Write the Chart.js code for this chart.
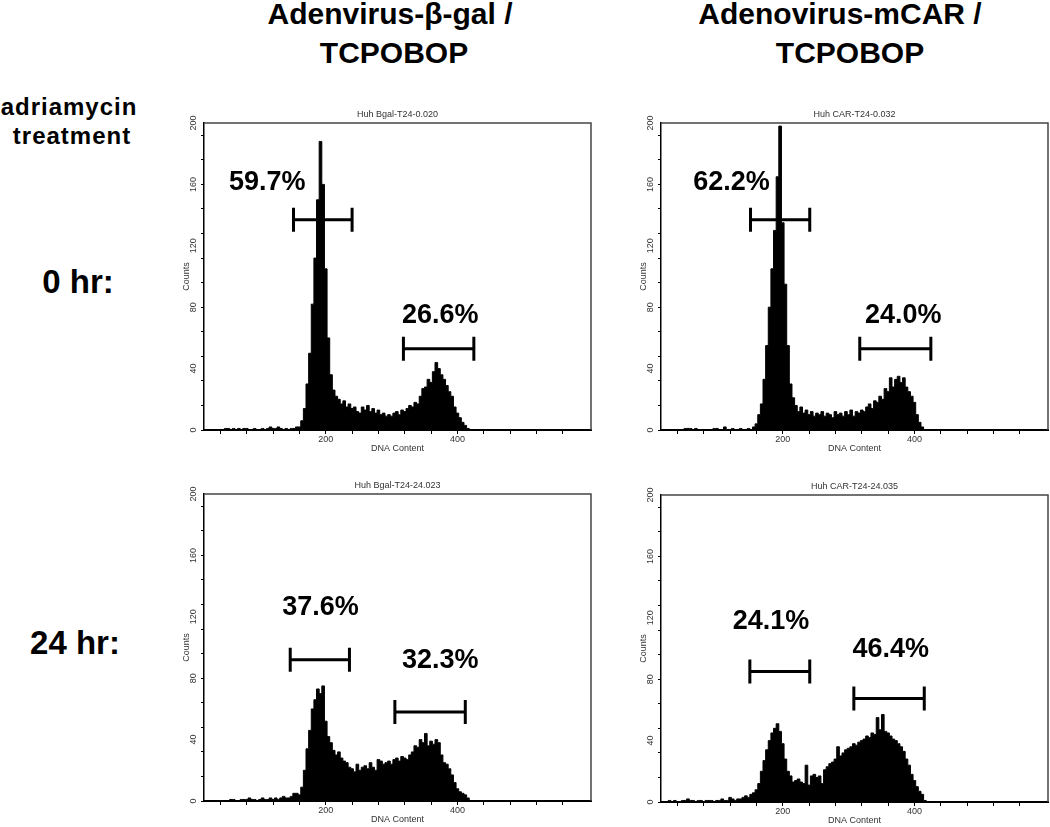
<!DOCTYPE html>
<html>
<head>
<meta charset="utf-8">
<script src="https://cdn.jsdelivr.net/npm/chart.js@4.4.1/dist/chart.umd.min.js"></script>
<style>
  body { margin: 0; background: #fff; }
  #page { position: relative; width: 1050px; height: 827px; overflow: hidden;
          font-family: "Liberation Sans", Arial, sans-serif; font-weight: bold; color: #000; }
  .lbl { position: absolute; white-space: nowrap; text-align: center; }
  canvas { position: absolute; }
</style>
</head>
<body>
<div id="page">
  <div class="lbl" style="left:190px; width:400px; top:-1px; font-size:30px; line-height:30px;">Adenvirus-β-gal /</div>
  <div class="lbl" style="left:194px; width:400px; top:38px; font-size:30px; line-height:30px;">TCPOBOP</div>
  <div class="lbl" style="left:640px; width:400px; top:-1px; font-size:30px; line-height:30px;">Adenovirus-mCAR /</div>
  <div class="lbl" style="left:650px; width:400px; top:38px; font-size:30px; line-height:30px;">TCPOBOP</div>

  <div class="lbl" style="left:-31px; width:200px; top:95px; font-size:24px; line-height:24px; letter-spacing:1px;">adriamycin</div>
  <div class="lbl" style="left:-28px; width:200px; top:124px; font-size:24px; line-height:24px; letter-spacing:1px;">treatment</div>
  <div class="lbl" style="left:-22px; width:200px; top:265px; font-size:33px; line-height:33px;">0 hr:</div>
  <div class="lbl" style="left:-25px; width:200px; top:626px; font-size:33px; line-height:33px;">24 hr:</div>

  <canvas id="p1" width="443" height="355" style="left:150px; top:105px;"></canvas>
  <canvas id="p2" width="443" height="355" style="left:607px; top:105px;"></canvas>
  <canvas id="p3" width="443" height="355" style="left:150px; top:476px;"></canvas>
  <canvas id="p4" width="443" height="355" style="left:607px; top:477px;"></canvas>
</div>

<script>
// DNA content channel (bin centre) for each count
const channels = [
  20, 24, 28, 32, 36, 40, 44, 48, 52, 56, 60, 64, 68, 72, 76, 80, 84, 88, 92, 96,
  100, 104, 108, 112, 116, 120, 124, 128, 132, 136, 140, 144, 148, 152, 156,
  160, 164, 168, 172, 176, 180, 184, 188, 192, 196, 200, 204, 208, 212, 216,
  220, 224, 228, 232, 236, 240, 244, 248, 252, 256, 260, 264, 268, 272, 276,
  280, 284, 288, 292, 296, 300, 304, 308, 312, 316, 320, 324, 328, 332, 336,
  340, 344, 348, 352, 356, 360, 364, 368, 372, 376, 380, 384, 388, 392, 396,
  400, 404, 408, 412, 416, 420
];

// 0 hr, Adenovirus-beta-gal
const countsBgal0 = [
  0, 0, 0, 0, 0, 0, 0, 1, 1, 0, 1, 0, 1, 0, 1, 1, 0, 0, 1, 0,
  0, 1, 0, 1, 2, 1, 1, 2, 1, 0, 1, 0, 1, 1, 2,
  2, 6, 14, 30, 50, 82, 112, 150, 188, 160, 105, 60, 36, 26, 22,
  20, 17, 19, 15, 17, 14, 15, 12, 11, 15, 13, 16, 12, 14, 11,
  13, 10, 11, 9, 10, 9, 11, 12, 10, 13, 12, 14, 16, 15, 18,
  17, 22, 27, 28, 33, 31, 38, 44, 40, 36, 33, 29, 25, 22, 15,
  11, 8, 5, 3, 1, 0
];

// 0 hr, Adenovirus-mCAR
const countsCar0 = [
  0, 0, 0, 0, 0, 0, 0, 0, 1, 1, 1, 0, 1, 0, 0, 0, 0, 0, 0, 1,
  1, 0, 0, 2, 0, 0, 1, 0, 0, 1, 0, 0, 1, 0, 2,
  4, 10, 17, 33, 55, 80, 105, 130, 165, 198, 135, 95, 55, 30, 21,
  16, 12, 15, 11, 13, 10, 12, 9, 11, 10, 12, 9, 11, 10, 8,
  12, 10, 11, 9, 12, 10, 13, 9, 12, 11, 13, 12, 15, 17, 14,
  19, 18, 22, 20, 27, 25, 34, 28, 33, 35, 31, 34, 28, 25, 22,
  18, 10, 5, 2, 0, 0
];

// 24 hr, Adenovirus-beta-gal
const countsBgal24 = [
  0, 0, 0, 0, 0, 0, 0, 0, 0, 1, 1, 0, 0, 1, 1, 1, 2, 1, 1, 0,
  1, 2, 1, 1, 2, 1, 2, 1, 2, 3, 2, 2, 3, 5, 5,
  4, 9, 20, 34, 46, 60, 66, 73, 70, 75, 52, 42, 38, 33, 30,
  32, 28, 26, 25, 22, 21, 19, 24, 20, 22, 23, 21, 25, 22, 20,
  27, 26, 24, 25, 26, 24, 27, 28, 26, 29, 28, 27, 30, 32, 36,
  35, 40, 38, 44, 36, 39, 37, 40, 38, 30, 25, 24, 21, 17, 12,
  8, 6, 5, 4, 2, 0
];

// 24 hr, Adenovirus-mCAR
const countsCar24 = [
  0, 0, 1, 0, 1, 0, 0, 1, 1, 2, 1, 1, 0, 1, 1, 0, 1, 1, 1, 0,
  1, 1, 2, 1, 1, 3, 2, 1, 2, 2, 3, 4, 3, 5, 6,
  8, 12, 20, 27, 34, 40, 45, 48, 51, 46, 38, 28, 20, 17, 13,
  14, 15, 13, 12, 24, 11, 17, 18, 16, 17, 12, 21, 23, 25, 26,
  28, 36, 30, 32, 34, 35, 36, 38, 37, 39, 40, 41, 43, 42, 45,
  44, 55, 47, 57, 46, 45, 43, 41, 40, 38, 36, 33, 28, 24, 18,
  14, 10, 7, 5, 1, 0
];

// gate markers: DNA range and the count level they sit at
const gatesBgal0 = [{ from: 151, to: 240, level: 137 }, { from: 318, to: 425, level: 53 }];
const gatesCar0 = [{ from: 151, to: 241, level: 137 }, { from: 317, to: 425, level: 53 }];
const gatesBgal24 = [{ from: 146, to: 236, level: 92 }, { from: 305, to: 412, level: 58 }];
const gatesCar24 = [{ from: 150, to: 241, level: 85 }, { from: 308, to: 415, level: 67.5 }];

// gate percentages, placed at (channel, count)
const pctBgal0 = [{ text: '59.7%', x: 111, y: 163 }, { text: '26.6%', x: 374, y: 76 }];
const pctCar0 = [{ text: '62.2%', x: 122, y: 163 }, { text: '24.0%', x: 383, y: 76 }];
const pctBgal24 = [{ text: '37.6%', x: 192, y: 128 }, { text: '32.3%', x: 374, y: 93 }];
const pctCar24 = [{ text: '24.1%', x: 182, y: 119 }, { text: '46.4%', x: 364, y: 101 }];

const xTickValues = [40, 80, 120, 160, 200, 240, 280, 320, 360, 400, 440, 480, 520, 560];
const xLabelValues = [200, 400];
const yLabelValues = [0, 40, 80, 120, 160, 200];

const FONT = '"Liberation Sans", Arial, sans-serif';

function drawPanel(canvasId, title, counts, gates, pcts) {
  const decor = {
    id: 'decor',
    afterDraw(chart) {
      const { ctx, chartArea: a } = chart;
      const x = chart.scales.x, y = chart.scales.y;
      ctx.save();

      // box top/right
      ctx.strokeStyle = '#444';
      ctx.lineWidth = 1.5;
      ctx.beginPath();
      ctx.moveTo(a.left, a.top);
      ctx.lineTo(a.right, a.top);
      ctx.lineTo(a.right, a.bottom);
      ctx.stroke();

      // rotated y labels
      ctx.fillStyle = '#333';
      ctx.font = '9px ' + FONT;
      ctx.textAlign = 'center';
      ctx.textBaseline = 'middle';
      yLabelValues.forEach(v => {
        ctx.save();
        ctx.translate(a.left - 10, y.getPixelForValue(v));
        ctx.rotate(-Math.PI / 2);
        ctx.fillText(String(v), 0, 0);
        ctx.restore();
      });
      ctx.save();
      ctx.translate(a.left - 17, (a.top + a.bottom) / 2);
      ctx.rotate(-Math.PI / 2);
      ctx.fillText('Counts', 0, 0);
      ctx.restore();

      ctx.fillText('DNA Content', (a.left + a.right) / 2, a.bottom + 19);
      ctx.fillText(title, (a.left + a.right) / 2, a.top - 8);

      // gate brackets
      ctx.strokeStyle = '#000';
      ctx.lineWidth = 3;
      gates.forEach(g => {
        const x1 = x.getPixelForValue(g.from);
        const x2 = x.getPixelForValue(g.to);
        const yy = y.getPixelForValue(g.level);
        ctx.beginPath();
        ctx.moveTo(x1, yy); ctx.lineTo(x2, yy);
        ctx.moveTo(x1, yy - 12); ctx.lineTo(x1, yy + 12);
        ctx.moveTo(x2, yy - 12); ctx.lineTo(x2, yy + 12);
        ctx.stroke();
      });

      // percentages
      ctx.fillStyle = '#000';
      ctx.font = 'bold 27px ' + FONT;
      ctx.textBaseline = 'alphabetic';
      pcts.forEach(p => {
        ctx.fillText(p.text, x.getPixelForValue(p.x), y.getPixelForValue(p.y) + 10);
      });

      ctx.restore();
    }
  };

  new Chart(document.getElementById(canvasId), {
    type: 'line',
    data: {
      datasets: [{
        data: channels.map((c, i) => ({ x: c, y: counts[i] })),
        borderColor: '#000',
        backgroundColor: '#000',
        borderWidth: 1,
        pointRadius: 0,
        stepped: 'middle',
        fill: 'origin'
      }]
    },
    options: {
      responsive: false,
      animation: false,
      layout: { padding: { top: 18, right: 2, left: 0, bottom: 0 } },
      plugins: { legend: { display: false }, tooltip: { enabled: false } },
      scales: {
        x: {
          type: 'linear',
          min: 15,
          max: 603,
          afterBuildTicks: s => { s.ticks = xTickValues.map(v => ({ value: v })); },
          afterFit: s => { s.height = 30; },
          ticks: {
            autoSkip: false,
            maxRotation: 0,
            padding: 0,
            color: '#333',
            font: { size: 9, family: FONT },
            callback: v => xLabelValues.includes(v) ? String(v) : ''
          },
          grid: { drawOnChartArea: false, drawTicks: true, tickLength: 4, color: '#000' },
          border: { display: true, color: '#000', width: 2 }
        },
        y: {
          min: 0,
          max: 200,
          afterBuildTicks: s => {
            const t = [];
            for (let v = 0; v <= 200; v += 8) t.push({ value: v });
            s.ticks = t;
          },
          afterFit: s => { s.width = 54; },
          ticks: { callback: () => '' },
          grid: { drawOnChartArea: false, drawTicks: true, tickLength: 3, color: '#000' },
          border: { display: true, color: '#000', width: 1.5 }
        }
      }
    },
    plugins: [decor]
  });
}

drawPanel('p1', 'Huh Bgal-T24-0.020', countsBgal0, gatesBgal0, pctBgal0);
drawPanel('p2', 'Huh CAR-T24-0.032', countsCar0, gatesCar0, pctCar0);
drawPanel('p3', 'Huh Bgal-T24-24.023', countsBgal24, gatesBgal24, pctBgal24);
drawPanel('p4', 'Huh CAR-T24-24.035', countsCar24, gatesCar24, pctCar24);
</script>
</body>
</html>
